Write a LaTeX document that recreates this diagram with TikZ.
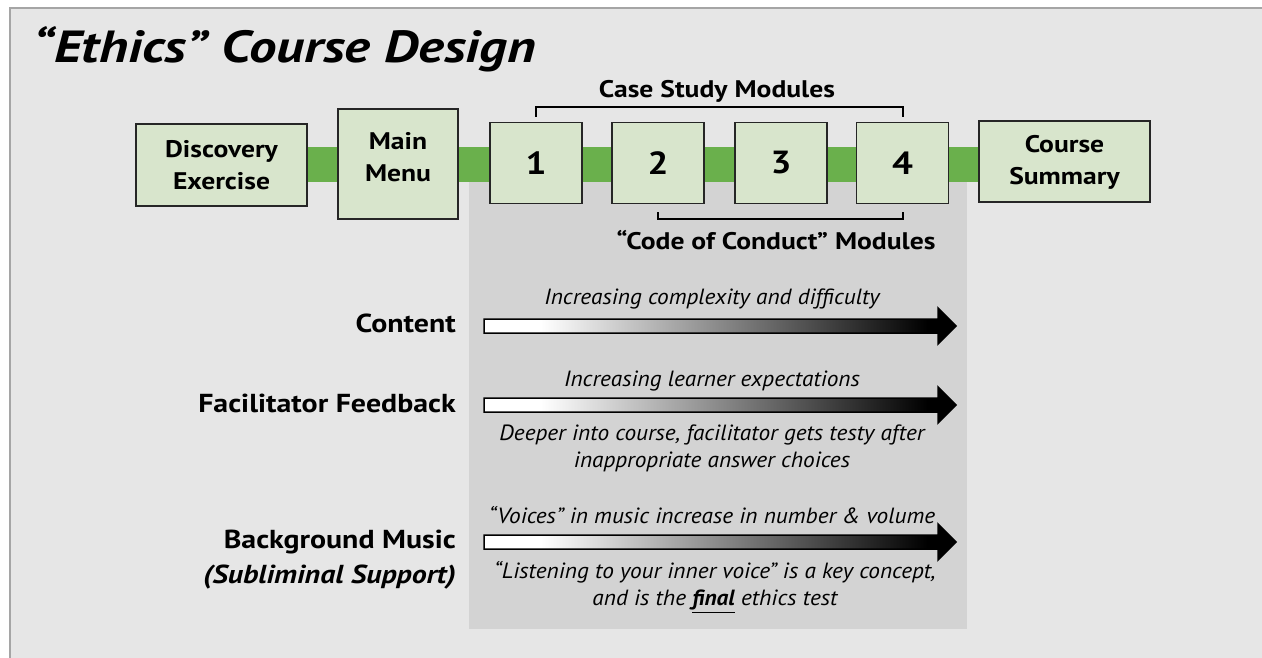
\documentclass[tikz,border=0pt]{standalone}
\usepackage{fontspec}
\setmainfont{PT Sans}
\newfontfamily\wideB[FakeStretch=1.15]{PT Sans}
\newfontfamily\wideT[FakeStretch=1.22]{PT Sans}
\newfontfamily\wideI[FakeStretch=1.06]{PT Sans}
\definecolor{panel}{RGB}{230,230,230}
\definecolor{darkpanel}{RGB}{211,211,211}
\definecolor{barGreen}{RGB}{106,176,76}
\definecolor{boxGreen}{RGB}{216,229,204}
\definecolor{edgegray}{RGB}{165,165,165}
\pgfdeclarehorizontalshading{gradarrow}{100bp}{color(0bp)=(white); color(31bp)=(white); color(72bp)=(black); color(100bp)=(black)}
\pgfdeclarelayer{bg}\pgfdeclarelayer{mid}\pgfsetlayers{bg,mid,main}
\tikzset{
  box/.style={draw=black!85, line width=1.5bp, fill=boxGreen, align=center, inner sep=0pt,
    font=\wideB\bfseries\fontsize{24bp}{32bp}\selectfont},
  numbox/.style={box, minimum width=92bp, minimum height=81bp,
    font=\wideB\bfseries\fontsize{32bp}{32bp}\selectfont},
  brk/.style={draw=black, line width=2bp},
  lbl/.style={font=\wideB\bfseries\fontsize{24bp}{30bp}\selectfont, inner sep=0pt},
  head/.style={font=\wideB\bfseries\fontsize{26bp}{35bp}\selectfont, inner sep=0pt},
  desc/.style={font=\wideI\itshape\fontsize{22bp}{27bp}\selectfont, inner sep=0pt, align=center},
  gradarr/.style={shading=gradarrow, draw=black, line width=1.5bp},
  bar/.style={draw=barGreen, line width=35bp}
}
\begin{document}
\begin{tikzpicture}[x=1bp,y=-1bp]
\useasboundingbox (0,0) rectangle (1262,658);
\begin{pgfonlayer}{bg}
\fill[white] (0,0) rectangle (1262,658);
\fill[panel] (9,8) rectangle (1262,658);
\draw[edgegray, line width=2bp] (9.5,658) -- (9.5,8.5) -- (1262,8.5);
\fill[darkpanel] (469,170) rectangle (967,629);
\end{pgfonlayer}

\node[anchor=base west, inner sep=0pt, font=\wideT\bfseries\itshape\fontsize{45bp}{50bp}\selectfont] (title) at (33,63) {“Ethics” Course Design};

\node[box, minimum width=171bp, minimum height=81.5bp] (disc) at (221.5,165) {Discovery\\Exercise};
\node[box, minimum width=120bp, minimum height=110bp,
  label={[font=\wideB\bfseries\fontsize{24bp}{32bp}\selectfont, align=center, yshift=7bp]center:Main\\Menu}] (menu) at (398,164) {};
\node[numbox] (m1) at (536,163) {1};
\node[numbox] (m2) at (658,163) {2};
\node[numbox] (m3) at (781,163) {3};
\node[numbox] (m4) at (902.5,163) {4};
\node[box, minimum width=171bp, minimum height=81bp, text depth=2bp] (summ) at (1064.5,161.3) {Course\\Summary};

\begin{pgfonlayer}{mid}
\draw[bar] (disc.east) -- (disc.east -| summ.west);
\end{pgfonlayer}

\draw[brk] ([yshift=5bp]m1.north) -- ++(0,-10) -| ([yshift=5bp]m4.north);
\node[lbl] (csm) at (717,91) {Case Study Modules};
\draw[brk] ([yshift=-8bp]m2.south) -- ++(0,7) -| ([yshift=-8bp]m4.south);
\node[lbl] (ccm) at (776,240) {“Code of Conduct” Modules};

\coordinate (a1) at (484,326);
\coordinate (a2) at (484,405);
\coordinate (a3) at (484,542);
\foreach \a in {a1,a2,a3}{
  \shadedraw[gradarr] (\a) ++(0,-7) -- ++(454,0) -- ++(0,-11) -- ++(18,18) -- ++(-18,18) -- ++(0,-11) -- ++(-454,0) -- cycle;
}

\node[head, anchor=east] (content) at (456,323) {Content};
\node[head, anchor=east] (facil) at (456,403) {Facilitator Feedback};
\node[head, anchor=east, align=right] (music) at (456,560) {Background Music\\\textit{(Subliminal Support)}};

\node[desc] (d1) at (712,299) {Increasing complexity and difficulty};
\node[desc] (d2) at (712,381) {Increasing learner expectations};
\node[desc] (d3) at (712,448.5) {Deeper into course, facilitator gets testy after\\inappropriate answer choices};
\node[desc] (d4) at (712,515) {“Voices” in music increase in number \& volume};
\node[desc] (d5) at (715,587) {“Listening to your inner voice” is a key concept,\\and is the \underline{\textbf{final}} ethics test};
\end{tikzpicture}
\end{document}
